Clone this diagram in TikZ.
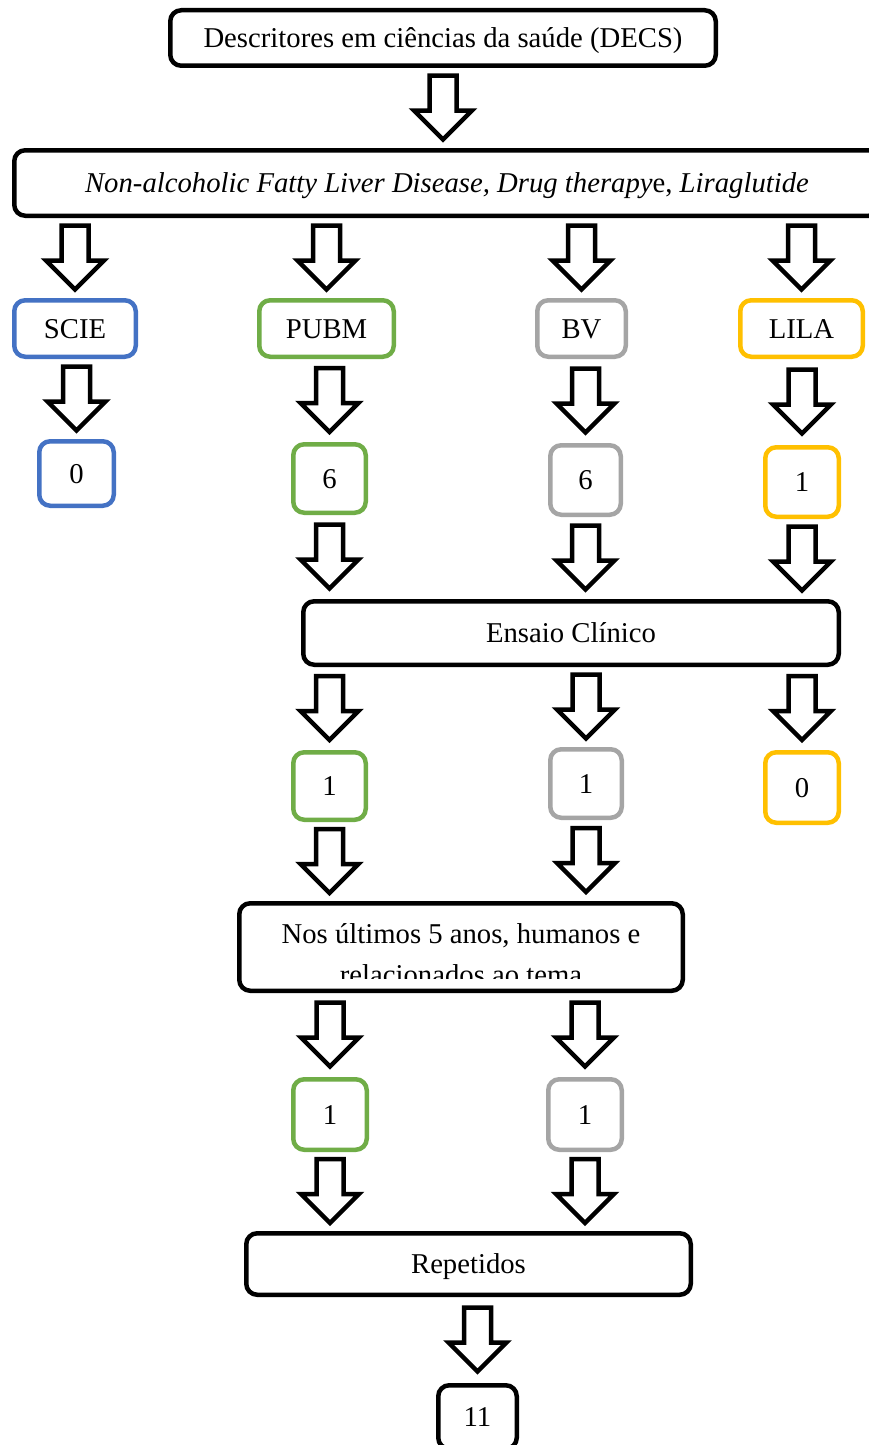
\documentclass[tikz,border=0pt]{standalone}
\usepackage{fontspec}
\setmainfont{Liberation Serif}
\usetikzlibrary{calc}
\definecolor{scieblue}{HTML}{4472C4}
\definecolor{pubgreen}{HTML}{70AD47}
\definecolor{bvgray}{HTML}{A5A5A5}
\definecolor{lilagold}{HTML}{FFC000}

\tikzset{
  box/.style={draw=black,line width=4.5pt,rounded corners=11pt,fill=white,
    inner sep=0pt,text height=19pt,text depth=0pt},
  barrow/.pic={
    \draw[line width=4.5pt,line join=miter,fill=white]
      (-13.5,-32.5) -- (13.5,-32.5) -- (13.5,2.5) -- (29,2.5) -- (0,31.5)
      -- (-29,2.5) -- (-13.5,2.5) -- cycle;
  }
}

\begin{document}
\begin{tikzpicture}[x=1pt,y=-1pt,font=\fontsize{28.7}{35}\selectfont]
  \useasboundingbox (0,0) rectangle (868,1445);

  % search terms
  \node[box,minimum width=545.5pt,minimum height=55.5pt] (desc) at (443,38) {Descritores em ciências da saúde (DECS)};
  \node[box,minimum width=865.5pt,minimum height=65.5pt] (terms) at (447,183)
    {\textit{Non-alcoholic Fatty Liver Disease, Drug therapy}e, \textit{Liraglutide}};

  % databases
  \node[box,draw=scieblue,minimum width=121.5pt,minimum height=56.5pt] (scie) at (75,328.5) {SCIE};
  \node[box,draw=pubgreen,minimum width=134.5pt,minimum height=56.5pt] (pubm) at (326.5,328.5) {PUBM};
  \node[box,draw=bvgray,minimum width=88.5pt,minimum height=56.5pt] (bv) at (581.5,328.5) {BV};
  \node[box,draw=lilagold,minimum width=122.5pt,minimum height=56.5pt] (lila) at (801.5,328.5) {LILA};

  % first counts
  \node[box,draw=scieblue,minimum width=74.5pt,minimum height=64.5pt] (scieN) at (76.5,473.5) {0};
  \node[box,draw=pubgreen,minimum width=72.5pt,minimum height=68.5pt] (pubmN) at (329.5,478.5) {6};
  \node[box,draw=bvgray,minimum width=70.5pt,minimum height=69.5pt] (bvN) at (585.5,480) {6};
  \node[box,draw=lilagold,minimum width=73.5pt,minimum height=69.5pt] (lilaN) at (802,482) {1};

  \node[box,minimum width=535.5pt,minimum height=63.5pt] (ensaio) at (571,633) {Ensaio Clínico};

  % after filter
  \node[box,draw=pubgreen,minimum width=72.5pt,minimum height=67.5pt] (pubmE) at (329.5,786) {1};
  \node[box,draw=bvgray,minimum width=71.5pt,minimum height=68.5pt] (bvE) at (586,783.5) {1};
  \node[box,draw=lilagold,minimum width=73.5pt,minimum height=70.5pt] (lilaE) at (802,787.5) {0};

  \node[box,minimum width=443.5pt,minimum height=87.5pt] (nos) at (461,947) {};
  \begin{scope}
    \clip ($(nos.north west)+(5,5)$) rectangle ($(nos.south east)+(-5,-15)$);
    \node[anchor=base,inner sep=0pt] (nosA) at ($(nos.north)+(0,42)$) {Nos últimos 5 anos, humanos e};
    \node[anchor=base,inner sep=0pt] (nosB) at ($(nos.north)+(0,83)$) {relacionados ao tema};
  \end{scope}

  \node[box,draw=pubgreen,minimum width=73.5pt,minimum height=70.5pt] (pubmF) at (330,1114.5) {1};
  \node[box,draw=bvgray,minimum width=73.5pt,minimum height=70.5pt] (bvF) at (585,1114.5) {1};

  \node[box,minimum width=444.5pt,minimum height=61.5pt] (rep) at (468.5,1264) {Repetidos};
  \node[box,minimum width=78.5pt,minimum height=63.5pt] (total) at (477.5,1417) {11};

  % block arrows
  \pic at ($(desc.south)!0.5!(desc.south |- terms.north)$) {barrow};
  \foreach \b in {scie,pubm,bv,lila}
    \pic at ($(terms.south -| \b.north)!0.5!(\b.north)$) {barrow};
  \foreach \a/\b in {scie/scieN,pubm/pubmN,bv/bvN,lila/lilaN}
    \pic at ($(\a.south -| \b.north)!0.5!(\b.north)$) {barrow};
  \foreach \a in {pubmN,bvN,lilaN}
    \pic at ($(\a.south)!0.5!(\a.south |- ensaio.north)$) {barrow};
  \foreach \b in {pubmE,bvE,lilaE}
    \pic at ($(ensaio.south -| \b.north)!0.5!(\b.north)$) {barrow};
  \foreach \a in {pubmE,bvE}
    \pic at ($(\a.south)!0.5!(\a.south |- nos.north)$) {barrow};
  \foreach \b in {pubmF,bvF}
    \pic at ($(nos.south -| \b.north)!0.5!(\b.north)$) {barrow};
  \foreach \a in {pubmF,bvF}
    \pic at ($(\a.south)!0.5!(\a.south |- rep.north)$) {barrow};
  \pic at ($(rep.south -| total.north)!0.5!(total.north)$) {barrow};
\end{tikzpicture}
\end{document}
